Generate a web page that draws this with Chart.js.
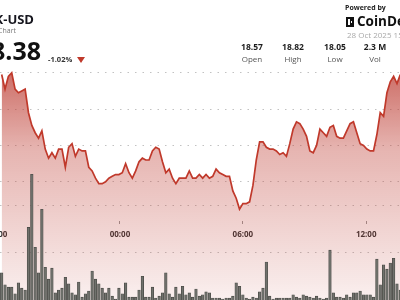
<!DOCTYPE html>
<html>
<head>
<meta charset="utf-8">
<script src="https://cdn.jsdelivr.net/npm/chart.js@4.4.0/dist/chart.umd.min.js"></script>
<style>
  html, body { margin: 0; padding: 0; background: #fff; }
  #wrap { position: relative; width: 400px; height: 300px; overflow: hidden; font-family: "Open Sans", "Noto Sans", sans-serif; }
  #chart { position: absolute; left: 0; top: 0; }
  .t { position: absolute; white-space: nowrap; line-height: 1; }
  .stat { position: absolute; width: 40px; text-align: center; line-height: 1; }
  .stat b { display: block; font-size: 8.5px; color: #1c1c1c; }
  .stat span { display: block; font-size: 8px; color: #555; margin-top: 3px; }
</style>
</head>
<body>
<div id="wrap">
  <canvas id="chart" width="400" height="300"></canvas>

  <div class="t" style="right:366px; top:13px; font-size:13px; font-weight:700; color:#16161e;">LINK-USD</div>
  <div class="t" style="right:384px; top:27px; font-size:7px; color:#777;">LINK Chart</div>
  <div class="t" style="right:359px; top:38px; font-size:25px; font-weight:700; color:#111;">18.38</div>
  <div class="t" style="left:48px; top:56px; font-size:7.5px; font-weight:700; color:#333;">-1.02%</div>
  <div class="t" style="left:77px; top:57px; width:0; height:0; border-left:4px solid transparent; border-right:4px solid transparent; border-top:6px solid #c0392b;"></div>

  <div class="t" style="left:345px; top:4px; font-size:7px; font-weight:700; color:#222;">Powered by</div>
  <div class="t" style="left:346px; top:17px; width:8px; height:10px; background:#111;">
    <div style="position:absolute; left:2px; top:2px; width:2px; height:6px; background:#fff;"></div>
    <div style="position:absolute; left:5px; top:4px; width:1px; height:2px; background:#fff;"></div>
  </div>
  <div class="t" style="left:357px; top:15px; font-size:13.5px; font-weight:700; color:#111;">CoinDesk</div>
  <div class="t" style="left:347px; top:31px; font-size:8px; color:#aaa;">28 Oct 2025 15:00 UTC</div>

  <div class="stat" style="left:232px; top:43px;"><b>18.57</b><span>Open</span></div>
  <div class="stat" style="left:273px; top:43px;"><b>18.82</b><span>High</span></div>
  <div class="stat" style="left:315px; top:43px;"><b>18.05</b><span>Low</span></div>
  <div class="stat" style="left:355px; top:43px;"><b>2.3 M</b><span>Vol</span></div>
</div>

<script>
/* ===== Data ===== */

var prices = [
    18.79, 18.71, 18.78, 18.80, 18.71, 18.69, 18.70, 18.71, 18.58, 18.51,
    18.47, 18.44, 18.48, 18.38, 18.33, 18.36, 18.33, 18.38, 18.38, 18.28,
    18.39, 18.41, 18.34, 18.38, 18.37, 18.37, 18.28, 18.26, 18.22, 18.19,
    18.19, 18.20, 18.22, 18.23, 18.24, 18.24, 18.25, 18.30, 18.25, 18.22,
    18.26, 18.31, 18.33, 18.32, 18.32, 18.37, 18.39, 18.38, 18.31, 18.25,
    18.27, 18.22, 18.19, 18.22, 18.22, 18.22, 18.26, 18.22, 18.22, 18.24,
    18.22, 18.24, 18.22, 18.23, 18.27, 18.25, 18.24, 18.23, 18.23, 18.15,
    18.11, 18.05, 18.08, 18.08, 18.09, 18.18, 18.32, 18.42, 18.42, 18.39,
    18.38, 18.38, 18.37, 18.35, 18.36, 18.34, 18.41, 18.49, 18.53, 18.52,
    18.49, 18.45, 18.37, 18.36, 18.40, 18.49, 18.47, 18.45, 18.50, 18.51,
    18.45, 18.44, 18.44, 18.48, 18.52, 18.53, 18.47, 18.41, 18.40, 18.38,
    18.37, 18.37, 18.46, 18.58, 18.56, 18.69, 18.75, 18.78, 18.74, 18.79
];

// volume in thousands
var volumes = [
    57, 32, 27, 27, 13, 36, 25, 21, 153, 265,
    111, 57, 191, 69, 44, 67, 15, 21, 25, 48,
    34, 15, 11, 38, 6, 13, 19, 61, 44, 34,
    25, 15, 25, 8, 2, 25, 13, 36, 6, 6,
    6, 21, 50, 6, 6, 27, 4, 8, 15, 57,
    13, 6, 27, 13, 29, 11, 15, 6, 23, 8,
    11, 17, 15, 4, 4, 4, 2, 4, 4, 8,
    36, 29, 11, 4, 2, 6, 4, 17, 25, 80,
    8, 2, 4, 4, 4, 4, 4, 11, 6, 4,
    11, 8, 6, 4, 8, 4, 2, 4, 105, 15,
    6, 6, 4, 11, 6, 15, 15, 19, 11, 11,
    11, 6, 86, 32, 74, 65, 78, 88, 34, 21
];

var tickPositions = [-1.4, 35.3, 72.0, 108.8];
var tickLabels = ['18:00', '00:00', '06:00', '12:00'];
var priceGrid = [18.2, 18.4, 18.6, 18.8];
var volumeGrid = [100, 200];


/* ===== Chart ===== */

var lineColor = 'rgb(192, 57, 43)';
var gridColor = 'rgba(120, 120, 120, 0.45)';

function fillGradient(ctx) {
    var area = ctx.chart.chartArea;
    if (!area) return 'rgba(190, 60, 50, 0.3)';
    var g = ctx.chart.ctx.createLinearGradient(0, area.top + 60, 0, area.bottom);
    g.addColorStop(0, 'rgba(185, 55, 45, 0.78)');
    g.addColorStop(0.375, 'rgba(190, 60, 50, 0.38)');
    g.addColorStop(0.79, 'rgba(190, 60, 50, 0.18)');
    g.addColorStop(1, 'rgba(190, 60, 50, 0.08)');
    return g;
}

var labels = prices.map(function(_, i) { return i; });

new Chart(document.getElementById('chart'), {
    data: {
        labels: labels,
        datasets: [
            {
                type: 'line',
                data: prices,
                yAxisID: 'y',
                borderColor: lineColor,
                borderWidth: 1.7,
                pointRadius: 0,
                tension: 0,
                fill: 'start',
                backgroundColor: fillGradient,
                order: 0,
            },
            {
                type: 'bar',
                data: volumes,
                yAxisID: 'y1',
                backgroundColor: 'rgba(108, 110, 104, 0.95)',
                borderColor: 'rgba(70, 70, 66, 1)',
                borderWidth: 0.6,
                barThickness: 2.6,
                order: 1,
            },
        ],
    },
    options: {
        responsive: false,
        animation: false,
        devicePixelRatio: 1,
        layout: { padding: 0, autoPadding: false },
        plugins: {
            legend: { display: false },
            tooltip: { enabled: false },
            filler: { drawTime: 'beforeDatasetsDraw' },
        },
        scales: {
            x: {
                type: 'linear',
                offset: false,
                min: -0.5,
                max: 118.9,
                position: { y: 17.983 },
                afterBuildTicks: function(s) {
                    s.ticks = tickPositions.map(function(v) { return { value: v }; });
                },
                afterFit: function(s) {
                    s.paddingLeft = 0;
                    s.paddingRight = 0;
                },
                grid: {
                    display: true,
                    offset: false,
                    drawOnChartArea: false,
                    drawTicks: true,
                    tickLength: 3,
                    tickColor: '#999',
                },
                border: { display: false },
                ticks: {
                    autoSkip: false,
                    maxRotation: 0,
                    padding: 6,
                    color: '#333',
                    font: { family: '"Open Sans", sans-serif', size: 8, weight: 'bold' },
                    callback: function(v, idx) { return tickLabels[idx]; },
                },
            },
            y: {
                position: 'left',
                min: 17.55,
                max: 19.2,
                afterBuildTicks: function(s) {
                    s.ticks = priceGrid.map(function(v) { return { value: v }; });
                },
                ticks: { display: false },
                grid: { color: gridColor, drawTicks: false, lineWidth: 1 },
                border: { display: false, dash: [1.5, 6] },
            },
            y1: {
                position: 'right',
                min: 0,
                max: 632,
                afterBuildTicks: function(s) {
                    s.ticks = volumeGrid.map(function(v) { return { value: v }; });
                },
                ticks: { display: false },
                grid: { color: gridColor, drawTicks: false, lineWidth: 1 },
                border: { display: false, dash: [1.5, 6] },
            },
        },
    },
});
</script>
</body>
</html>
